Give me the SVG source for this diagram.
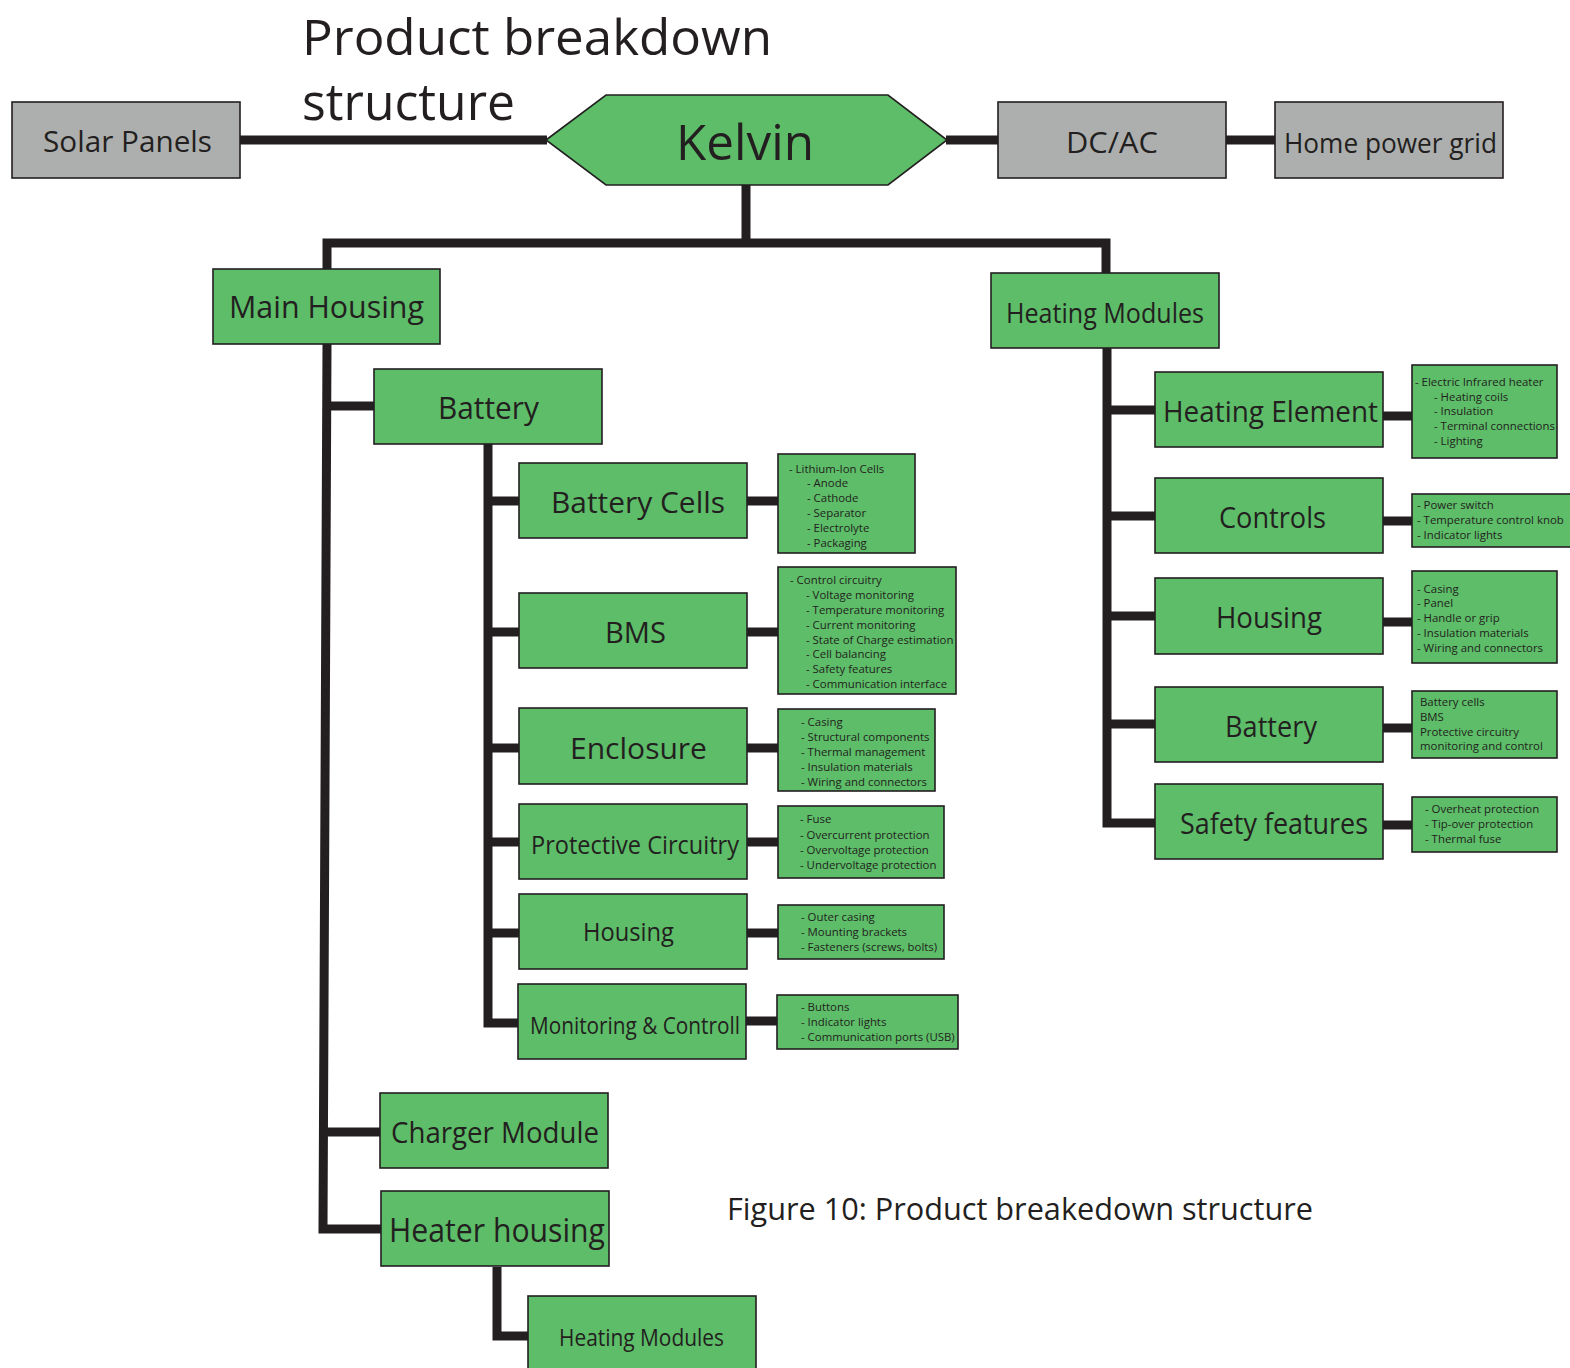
<svg xmlns="http://www.w3.org/2000/svg" width="1570" height="1368" viewBox="0 0 1570 1368">
<style>
.g{fill:#5dbd68;stroke:#231f20;stroke-width:1.6}
.gr{fill:#adafae;stroke:#231f20;stroke-width:1.6}
.t{font-family:"Open Sans","Liberation Sans",sans-serif;fill:#231f20}
.L{text-anchor:middle}
.s{font-family:"Open Sans","Liberation Sans",sans-serif;fill:#231f20;font-size:11.4px}
.c{fill:none;stroke:#231f20;stroke-width:9;stroke-linejoin:miter;stroke-linecap:butt}
</style>
<rect width="1570" height="1368" fill="#ffffff"/>
<g id="title">
<text class="t" x="302" y="55" font-size="50" textLength="470" lengthAdjust="spacingAndGlyphs">Product breakdown</text>
<text class="t" x="302" y="120" font-size="52" textLength="213" lengthAdjust="spacingAndGlyphs">structure</text>
</g>
<g id="connectors">
<path class="c" stroke-width="8" d="M240,140H547M946,140H998M1226,140H1275"/>
<path class="c" d="M746,185V243M327,269V243H1106V273"/>
<path class="c" d="M327,344L323,1229H381M327,406H374M323,1132H380"/>
<path class="c" d="M488,444V1023H518M488,501H519M488,632H519M488,748H519M488,842H519M488,933H519"/>
<path class="c" d="M747,501H778M747,632H778M747,748H778M747,842H778M747,933H778M746,1021H777"/>
<path class="c" d="M1107,348V823H1155M1107,410H1155M1107,516H1155M1107,616H1155M1107,724H1155"/>
<path class="c" d="M1383,416H1412M1383,521H1412M1383,622H1412M1383,728H1412M1383,825H1412"/>
<path class="c" d="M497,1267V1336H528"/>
</g>
<g id="solar-panels"><rect class="gr" x="12" y="102" width="228" height="76"/><text class="t" x="43" y="152" font-size="30" textLength="169" lengthAdjust="spacingAndGlyphs">Solar Panels</text></g>
<g id="kelvin"><polygon class="g" points="546,140 606,95 888,95 947,140 888,185 606,185"/><text class="t" x="676" y="160" font-size="50" textLength="138" lengthAdjust="spacingAndGlyphs">Kelvin</text></g>
<g id="dc-ac"><rect class="gr" x="998" y="102" width="228" height="76"/><text class="t" x="1066" y="153" font-size="30" textLength="92" lengthAdjust="spacingAndGlyphs">DC/AC</text></g>
<g id="home-power-grid"><rect class="gr" x="1275" y="102" width="228" height="76"/><text class="t" x="1284" y="153" font-size="28" textLength="213" lengthAdjust="spacingAndGlyphs">Home power grid</text></g>
<g id="main-housing"><rect class="g" x="213" y="269" width="227" height="75"/><text class="t" x="229" y="318" font-size="31" textLength="195" lengthAdjust="spacingAndGlyphs">Main Housing</text></g>
<g id="heating-modules"><rect class="g" x="991" y="273" width="228" height="75"/><text class="t" x="1006" y="323" font-size="27" textLength="198" lengthAdjust="spacingAndGlyphs">Heating Modules</text></g>
<g id="battery"><rect class="g" x="374" y="369" width="228" height="75"/><text class="t" x="438" y="419" font-size="31" textLength="101" lengthAdjust="spacingAndGlyphs">Battery</text></g>
<g id="battery-cells"><rect class="g" x="519" y="463" width="228" height="75"/><text class="t" x="551" y="513" font-size="30" textLength="174" lengthAdjust="spacingAndGlyphs">Battery Cells</text>
<rect class="g" x="778" y="454" width="137" height="99"/>
<text class="s"><tspan x="789" y="473">- Lithium-Ion Cells</tspan><tspan x="807" y="487">- Anode</tspan><tspan x="807" y="502">- Cathode</tspan><tspan x="807" y="517">- Separator</tspan><tspan x="807" y="532">- Electrolyte</tspan><tspan x="807" y="547">- Packaging</tspan></text></g>
<g id="bms"><rect class="g" x="519" y="593" width="228" height="75"/><text class="t" x="605" y="643" font-size="30" textLength="61" lengthAdjust="spacingAndGlyphs">BMS</text>
<rect class="g" x="778" y="567" width="178" height="127"/>
<text class="s"><tspan x="790" y="584">- Control circuitry</tspan><tspan x="806" y="599">- Voltage monitoring</tspan><tspan x="806" y="614">- Temperature monitoring</tspan><tspan x="806" y="629">- Current monitoring</tspan><tspan x="806" y="644">- State of Charge  estimation</tspan><tspan x="806" y="658">- Cell balancing</tspan><tspan x="806" y="673">- Safety features</tspan><tspan x="806" y="688">- Communication interface</tspan></text></g>
<g id="enclosure"><rect class="g" x="519" y="708" width="228" height="76"/><text class="t" x="570" y="759" font-size="30" textLength="137" lengthAdjust="spacingAndGlyphs">Enclosure</text>
<rect class="g" x="778" y="709" width="157" height="82"/>
<text class="s"><tspan x="801" y="726">- Casing</tspan><tspan x="801" y="741">- Structural components</tspan><tspan x="801" y="756">- Thermal management</tspan><tspan x="801" y="771">- Insulation materials</tspan><tspan x="801" y="786">- Wiring and connectors</tspan></text></g>
<g id="protective-circuitry"><rect class="g" x="519" y="804" width="228" height="75"/><text class="t" x="531" y="854" font-size="25" textLength="208" lengthAdjust="spacingAndGlyphs">Protective Circuitry</text>
<rect class="g" x="778" y="806" width="166" height="72"/>
<text class="s"><tspan x="800" y="823">- Fuse</tspan><tspan x="800" y="839">- Overcurrent protection</tspan><tspan x="800" y="854">- Overvoltage protection</tspan><tspan x="800" y="869">- Undervoltage protection</tspan></text></g>
<g id="housing-battery"><rect class="g" x="519" y="894" width="228" height="75"/><text class="t" x="583" y="941" font-size="25" textLength="91" lengthAdjust="spacingAndGlyphs">Housing</text>
<rect class="g" x="778" y="905" width="166" height="54"/>
<text class="s"><tspan x="801" y="921">- Outer casing</tspan><tspan x="801" y="936">- Mounting brackets</tspan><tspan x="801" y="951">- Fasteners (screws, bolts)</tspan></text></g>
<g id="monitoring-controll"><rect class="g" x="518" y="984" width="228" height="75"/><text class="t" x="530" y="1034" font-size="23" textLength="210" lengthAdjust="spacingAndGlyphs">Monitoring &amp; Controll</text>
<rect class="g" x="777" y="995" width="181" height="54"/>
<text class="s"><tspan x="801" y="1011">- Buttons</tspan><tspan x="801" y="1026">- Indicator lights</tspan><tspan x="801" y="1041">- Communication ports (USB)</tspan></text></g>
<g id="charger-module"><rect class="g" x="380" y="1093" width="228" height="75"/><text class="t" x="391" y="1143" font-size="30" textLength="208" lengthAdjust="spacingAndGlyphs">Charger Module</text></g>
<g id="heater-housing"><rect class="g" x="381" y="1191" width="228" height="75"/><text class="t" x="389" y="1242" font-size="33" textLength="216" lengthAdjust="spacingAndGlyphs">Heater housing</text></g>
<g id="heating-modules-2"><rect class="g" x="528" y="1296" width="228" height="80"/><text class="t" x="559" y="1346" font-size="23" textLength="165" lengthAdjust="spacingAndGlyphs">Heating Modules</text></g>
<g id="heating-element"><rect class="g" x="1155" y="372" width="228" height="75"/><text class="t" x="1163" y="422" font-size="29" textLength="215" lengthAdjust="spacingAndGlyphs">Heating Element</text>
<rect class="g" x="1412" y="365" width="145" height="93"/>
<text class="s"><tspan x="1415" y="386">- Electric Infrared heater</tspan><tspan x="1434" y="401">- Heating coils</tspan><tspan x="1434" y="415">- Insulation</tspan><tspan x="1434" y="430">- Terminal connections</tspan><tspan x="1434" y="445">- Lighting</tspan></text></g>
<g id="controls"><rect class="g" x="1155" y="478" width="228" height="75"/><text class="t" x="1219" y="528" font-size="30" textLength="107" lengthAdjust="spacingAndGlyphs">Controls</text>
<rect class="g" x="1412" y="494" width="160" height="53"/>
<text class="s"><tspan x="1417" y="509">- Power switch</tspan><tspan x="1417" y="524">- Temperature control knob</tspan><tspan x="1417" y="539">- Indicator lights</tspan></text></g>
<g id="housing-heating"><rect class="g" x="1155" y="578" width="228" height="76"/><text class="t" x="1216" y="628" font-size="30" textLength="106" lengthAdjust="spacingAndGlyphs">Housing</text>
<rect class="g" x="1412" y="571" width="145" height="92"/>
<text class="s"><tspan x="1417" y="593">- Casing</tspan><tspan x="1417" y="607">- Panel</tspan><tspan x="1417" y="622">- Handle or grip</tspan><tspan x="1417" y="637">- Insulation materials</tspan><tspan x="1417" y="652">- Wiring and connectors</tspan></text></g>
<g id="battery-heating"><rect class="g" x="1155" y="687" width="228" height="75"/><text class="t" x="1225" y="737" font-size="30" textLength="92" lengthAdjust="spacingAndGlyphs">Battery</text>
<rect class="g" x="1412" y="691" width="145" height="67"/>
<text class="s"><tspan x="1420" y="706">Battery cells</tspan><tspan x="1420" y="721">BMS</tspan><tspan x="1420" y="736">Protective circuitry</tspan><tspan x="1420" y="750">monitoring and control</tspan></text></g>
<g id="safety-features"><rect class="g" x="1155" y="784" width="228" height="75"/><text class="t" x="1180" y="834" font-size="29" textLength="188" lengthAdjust="spacingAndGlyphs">Safety features</text>
<rect class="g" x="1412" y="797" width="145" height="55"/>
<text class="s"><tspan x="1425" y="813">- Overheat protection</tspan><tspan x="1425" y="828">- Tip-over protection</tspan><tspan x="1425" y="843">- Thermal fuse</tspan></text></g>
<g id="caption"><text class="t" x="727" y="1220" font-size="31" textLength="586" lengthAdjust="spacingAndGlyphs">Figure 10: Product breakedown structure</text></g>
</svg>
